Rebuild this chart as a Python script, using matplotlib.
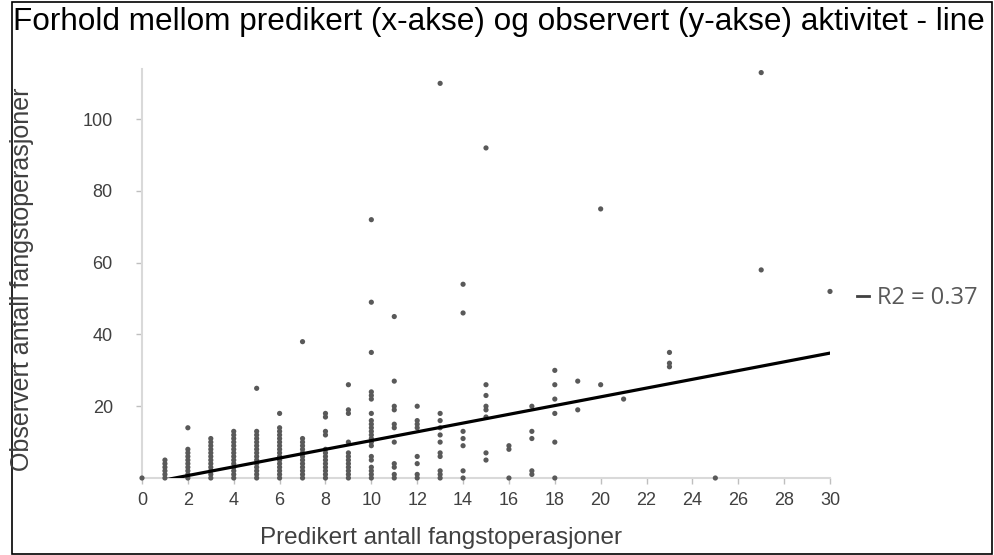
import numpy as np
import matplotlib
matplotlib.use("Agg")
import matplotlib.pyplot as plt
from matplotlib.lines import Line2D
from matplotlib.patches import Rectangle

# Data
pred = [0, 1, 2, 3, 4, 5, 6, 7, 8, 9, 10, 11, 12, 13, 14, 15, 16, 17, 18, 19, 20, 21, 23, 25, 27, 30]
obs = [
    [0],
    [0, 1, 2, 3, 4, 5],
    [0, 1, 2, 3, 4, 5, 6, 7, 8, 14],
    list(range(0, 12)),
    list(range(0, 14)),
    list(range(0, 14)) + [25],
    list(range(0, 15)) + [18],
    list(range(0, 12)) + [38],
    list(range(0, 9)) + [12, 13, 17, 18],
    list(range(0, 8)) + [10, 18, 19, 26],
    [0, 1, 2, 3, 5, 6, 9, 10, 11, 12, 13, 14, 15, 16, 18, 22, 23, 24, 35, 49, 72],
    [0, 1, 3, 4, 10, 14, 15, 19, 20, 27, 45],
    [0, 1, 4, 6, 14, 15, 16, 20],
    [0, 1, 2, 6, 7, 10, 12, 14, 16, 18, 110],
    [0, 2, 9, 11, 13, 46, 54],
    [5, 7, 17, 19, 20, 23, 26, 92],
    [0, 8, 9],
    [1, 2, 11, 13, 20],
    [0, 10, 18, 22, 26, 30],
    [19, 27],
    [26, 75],
    [22],
    [31, 32, 35],
    [0],
    [58, 113],
    [52],
]
trend_slope = 1.219
trend_intercept = -1.755
r2_label = "R2 = 0.37"

title = "Forhold mellom predikert (x-akse) og observert (y-akse) aktivitet - line"
xlabel = "Predikert antall fangstoperasjoner"
ylabel = "Observert antall fangstoperasjoner"
xticks = list(range(0, 31, 2))
yticks = [20, 40, 60, 80, 100]

plt.rcParams["font.family"] = ["Liberation Sans", "DejaVu Sans"]

xs = np.concatenate([[p] * len(o) for p, o in zip(pred, obs)])
ys = np.concatenate(obs)

fig = plt.figure(figsize=(9.94, 5.55), dpi=100)
W, H = 994, 555
ax = fig.add_axes([142 / W, (H - 478) / H, (830 - 142) / W, (478 - 69) / H])

ax.scatter(xs, ys, s=14, color="#595959", edgecolors="none", zorder=3, clip_on=False)

tx = np.array([0, 30])
ax.plot(tx, trend_slope * tx + trend_intercept, color="black", lw=2.3, zorder=4)

ax.set_xlim(0, 30)
ax.set_ylim(0, 114)
ax.set_xticks(xticks)
ax.set_yticks(yticks)
for s in ["top", "right"]:
    ax.spines[s].set_visible(False)
for s in ["left", "bottom"]:
    ax.spines[s].set_color("#d9d9d9")
    ax.spines[s].set_linewidth(1.5)
ax.tick_params(axis="both", colors="#bfbfbf", length=4, width=1, labelsize=13,
               labelcolor="#404040")
ax.tick_params(axis="x", pad=6)
ax.tick_params(axis="y", pad=17)

fig.text(13 / W, 1 - 22 / H, title, fontsize=22.7, va="center", ha="left", color="black")
fig.text(441 / W, 1 - 538 / H, xlabel, fontsize=17.5, ha="center", va="center", color="#404040")
fig.text(22 / W, 1 - 279 / H, ylabel, fontsize=18, ha="center", va="center",
         rotation=90, color="#404040")

handle = Line2D([0], [0], color="#404040", lw=2)
fig.legend([handle], [r2_label], loc="center left", bbox_to_anchor=(857 / W, 1 - 298 / H),
           frameon=False, handlelength=0.52, handletextpad=0.33, borderpad=0, borderaxespad=0,
           prop={"family": ["Open Sans", "DejaVu Sans"], "size": 17}, labelcolor="#595959")

fig.patches.append(Rectangle((12 / W, 1 / H), (W - 14) / W, (H - 3) / H, transform=fig.transFigure,
                             fill=False, edgecolor="black", lw=1.2))

fig.savefig("out.png", dpi=100)
